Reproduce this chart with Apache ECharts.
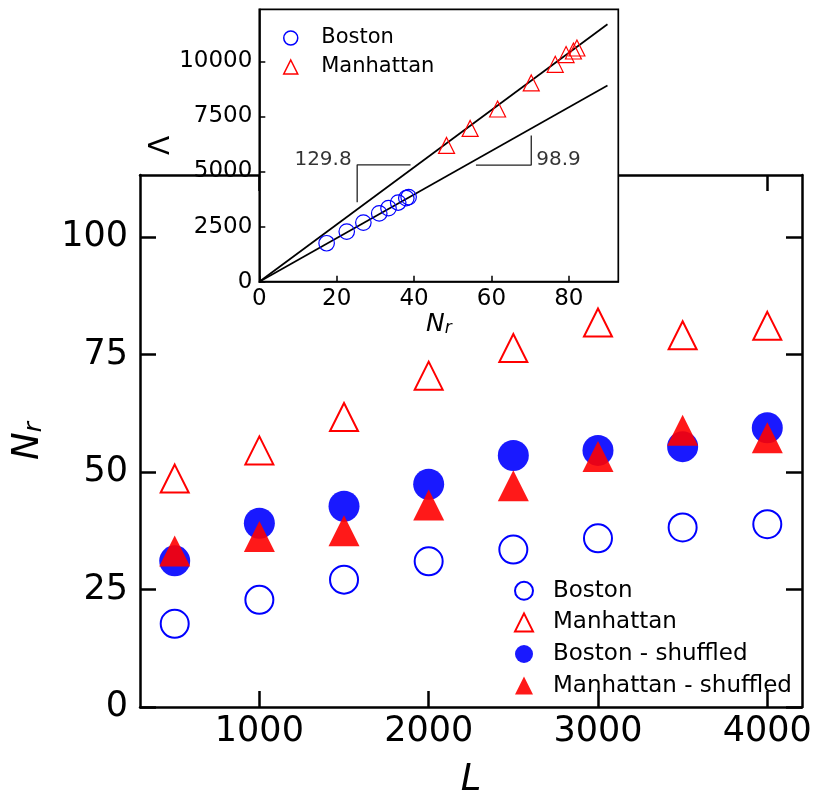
<!DOCTYPE html>
<html>
<head>
<meta charset="utf-8">
<script src="https://cdn.jsdelivr.net/npm/echarts@6/dist/echarts.min.js"></script>
<style>
html,body{margin:0;padding:0;background:#fff;}
#chart{width:815px;height:795px;}
</style>
</head>
<body>
<div id="chart"></div>
<script>
// ---- main panel data ----
const L = [500, 1000, 1500, 2000, 2500, 3000, 3500, 4000];
const boston = [17.7, 22.8, 27.1, 31.0, 33.5, 35.9, 38.2, 38.9];
const manhattan = [48.6, 54.6, 61.7, 70.5, 76.4, 81.8, 79.1, 81.1];
const bostonShuffled = [31.1, 39.1, 42.7, 47.4, 53.5, 54.6, 55.4, 59.4];
const manhattanShuffled = [33.2, 36.3, 37.5, 43.0, 47.1, 53.3, 58.9, 57.3];
const mainXTicks = [1000, 2000, 3000, 4000];
const mainYTicks = [0, 25, 50, 75, 100];

// ---- inset data ----
const insetBostonNr = [17.4, 22.6, 26.9, 31.0, 33.4, 35.9, 38.0, 38.6];
const insetBostonLambda = [1745, 2273, 2682, 3100, 3336, 3591, 3790, 3840];
const insetManhNr = [48.4, 54.5, 61.6, 70.3, 76.5, 79.3, 81.2, 82.1];
const insetManhLambda = [6182, 6955, 7836, 9018, 9864, 10305, 10468, 10605];
const fitUpper = [[0, 0], [90, 11680]];
const fitLower = [[0, 0], [90, 8900]];
const slopeBracketUpper = [[39.1, 5305], [25.3, 5305], [25.3, 3610]];
const slopeBracketLower = [[56.0, 5290], [70.3, 5290], [70.3, 6630]];
const slopeLabels = ['129.8', '98.9'];
const slopeLabelPos = [[25.3, 5305], [70.3, 5290]];
const insetXTicks = [0, 20, 40, 60, 80];
const insetYTicks = [0, 2500, 5000, 7500, 10000];

const FONT = 'DejaVu Sans';
const BLUE = '#0000ff', RED = '#ff0000';

const pairs = (xs, ys) => xs.map((x, i) => [x, ys[i]]);
const plain = v => String(v);

const chart = echarts.init(document.getElementById('chart'), null, {renderer: 'canvas', devicePixelRatio: 1});

const mainTick = {show: true, inside: true, length: 16, lineStyle: {color: '#000', width: 2.5}};
const mainLine = {show: true, onZero: false, lineStyle: {color: '#000', width: 2.5}};
const insetTick = {show: true, inside: true, length: 6, lineStyle: {color: '#000', width: 1.5}};
const insetLine = {show: true, onZero: false, lineStyle: {color: '#000', width: 1.7}};

const option = {
  animation: false,
  backgroundColor: '#fff',
  textStyle: {fontFamily: FONT},
  grid: [
    {left: 140, top: 175, width: 662, height: 532, show: false, containLabel: false, outerBoundsMode: 'none'},
    {left: 259.3, top: 9.3, width: 359, height: 272.4, show: true, backgroundColor: '#fff',
     borderColor: '#000', borderWidth: 1.7, z: 3, containLabel: false, outerBoundsMode: 'none'}
  ],
  xAxis: [
    {gridIndex: 0, type: 'value', position: 'bottom', min: 295, max: 4205,
     axisLine: mainLine, axisTick: Object.assign({customValues: mainXTicks}, mainTick),
     axisLabel: {customValues: mainXTicks, formatter: plain, margin: 7, fontSize: 35, color: '#000', fontFamily: FONT},
     splitLine: {show: false},
     name: 'L', nameLocation: 'middle', nameGap: 55,
     nameTextStyle: {fontSize: 37, fontStyle: 'italic', color: '#000', fontFamily: FONT}},
    {gridIndex: 0, type: 'value', position: 'top', min: 295, max: 4205,
     axisLine: mainLine, axisTick: Object.assign({customValues: mainXTicks}, mainTick),
     axisLabel: {show: false}, splitLine: {show: false}},
    {gridIndex: 1, type: 'value', position: 'bottom', min: 0, max: 92.8, z: 4,
     axisLine: insetLine, axisTick: Object.assign({customValues: insetXTicks}, insetTick),
     axisLabel: {customValues: insetXTicks, formatter: plain, margin: 6, fontSize: 23, color: '#000', fontFamily: FONT},
     splitLine: {show: false},
     name: '{n|N}{s|r}', nameLocation: 'middle', nameGap: 28,
     nameTextStyle: {color: '#000', rich: {
       n: {fontSize: 25, fontStyle: 'italic', fontFamily: FONT, lineHeight: 25, color: '#000'},
       s: {fontSize: 17, fontStyle: 'italic', fontFamily: FONT, lineHeight: 15, verticalAlign: 'bottom', color: '#000'}}}}
  ],
  yAxis: [
    {gridIndex: 0, type: 'value', position: 'left', min: 0, max: 113.2,
     axisLine: mainLine, axisTick: Object.assign({customValues: mainYTicks}, mainTick),
     axisLabel: {customValues: mainYTicks, formatter: plain, margin: 12, fontSize: 35, color: '#000', fontFamily: FONT},
     splitLine: {show: false},
     name: '{n|N}{s|r}', nameLocation: 'middle', nameGap: 93,
     nameTextStyle: {color: '#000', rich: {
       n: {fontSize: 37, fontStyle: 'italic', fontFamily: FONT, lineHeight: 37, color: '#000'},
       s: {fontSize: 25, fontStyle: 'italic', fontFamily: FONT, lineHeight: 18, verticalAlign: 'bottom', color: '#000'}}}},
    {gridIndex: 0, type: 'value', position: 'right', min: 0, max: 113.2,
     axisLine: mainLine, axisTick: Object.assign({customValues: mainYTicks}, mainTick),
     axisLabel: {show: false}, splitLine: {show: false}},
    {gridIndex: 1, type: 'value', position: 'left', min: 0, max: 12360, z: 4,
     axisLine: insetLine, axisTick: Object.assign({customValues: insetYTicks}, insetTick),
     axisLabel: {customValues: insetYTicks, formatter: plain, margin: 7, fontSize: 23, color: '#000', fontFamily: FONT},
     splitLine: {show: false},
     name: 'Λ', nameLocation: 'middle', nameGap: 71,
     nameTextStyle: {fontSize: 28, color: '#000', fontFamily: FONT}}
  ],
  legend: [
    {orient: 'vertical', left: 514, top: 579.3, padding: 0, itemWidth: 18, itemHeight: 18, itemGap: 8.6,
     z: 6, selectedMode: false,
     textStyle: {fontSize: 23, color: '#000', fontFamily: FONT, padding: [0, 0, 0, 15]},
     data: ['Boston', 'Manhattan', 'Boston - shuffled', 'Manhattan - shuffled']},
    {orient: 'vertical', left: 283, top: 27.5, padding: 0, itemWidth: 14, itemHeight: 14, itemGap: 8,
     z: 6, selectedMode: false,
     textStyle: {fontSize: 21, color: '#000', fontFamily: FONT, padding: [0, 0, 0, 18.5]},
     data: [
       {name: 'Boston', itemStyle: {borderWidth: 1.5}},
       {name: 'Manhattan', itemStyle: {borderWidth: 1.5}}
     ]}
  ],
  series: [
    {name: 'Boston', type: 'scatter', xAxisIndex: 0, yAxisIndex: 0, symbol: 'circle', symbolSize: 28,
     itemStyle: {color: 'rgba(255,255,255,0)', borderColor: BLUE, borderWidth: 2, opacity: 1},
     data: pairs(L, boston)},
    {name: 'Manhattan', type: 'scatter', xAxisIndex: 0, yAxisIndex: 0, symbol: 'triangle', symbolSize: 28,
     itemStyle: {color: 'rgba(255,255,255,0)', borderColor: RED, borderWidth: 2, opacity: 1},
     data: pairs(L, manhattan)},
    {name: 'Boston - shuffled', type: 'scatter', xAxisIndex: 0, yAxisIndex: 0, symbol: 'circle', symbolSize: 31,
     itemStyle: {color: 'rgba(0,0,255,0.9)', opacity: 1},
     data: pairs(L, bostonShuffled)},
    {name: 'Manhattan - shuffled', type: 'scatter', xAxisIndex: 0, yAxisIndex: 0, symbol: 'triangle', symbolSize: 31,
     itemStyle: {color: 'rgba(255,0,0,0.9)', opacity: 1},
     data: pairs(L, manhattanShuffled)},

    // inset
    {name: 'fitUpper', type: 'line', xAxisIndex: 2, yAxisIndex: 2, z: 5, showSymbol: false, symbol: 'none',
     lineStyle: {color: '#000', width: 1.7}, data: fitUpper, silent: true},
    {name: 'fitLower', type: 'line', xAxisIndex: 2, yAxisIndex: 2, z: 5, showSymbol: false, symbol: 'none',
     lineStyle: {color: '#000', width: 1.7}, data: fitLower, silent: true},
    {name: 'bracketUpper', type: 'line', xAxisIndex: 2, yAxisIndex: 2, z: 5, showSymbol: false, symbol: 'none',
     lineStyle: {color: '#222', width: 1.3}, data: slopeBracketUpper, silent: true},
    {name: 'bracketLower', type: 'line', xAxisIndex: 2, yAxisIndex: 2, z: 5, showSymbol: false, symbol: 'none',
     lineStyle: {color: '#222', width: 1.3}, data: slopeBracketLower, silent: true},
    {name: 'slopeLabels', type: 'scatter', xAxisIndex: 2, yAxisIndex: 2, z: 6, symbolSize: 0, silent: true,
     data: slopeLabels.map((t, i) => ({
       value: slopeLabelPos[i], name: t,
       label: {show: true, formatter: t, position: i === 0 ? [-5.5, 4.7] : [5, 4.7],
               align: i === 0 ? 'right' : 'left', verticalAlign: 'bottom',
               fontSize: 20, color: '#000', fontFamily: FONT}
     }))},
    {name: 'Boston', type: 'scatter', xAxisIndex: 2, yAxisIndex: 2, z: 6, symbol: 'circle', symbolSize: 15.5,
     itemStyle: {color: 'rgba(255,255,255,0)', borderColor: BLUE, borderWidth: 1.2, opacity: 1},
     data: pairs(insetBostonNr, insetBostonLambda)},
    {name: 'Manhattan', type: 'scatter', xAxisIndex: 2, yAxisIndex: 2, z: 6, symbol: 'triangle', symbolSize: 16,
     itemStyle: {color: 'rgba(255,255,255,0)', borderColor: RED, borderWidth: 1.2, opacity: 1},
     data: pairs(insetManhNr, insetManhLambda)}
  ]
};
chart.setOption(option);
</script>
</body>
</html>
